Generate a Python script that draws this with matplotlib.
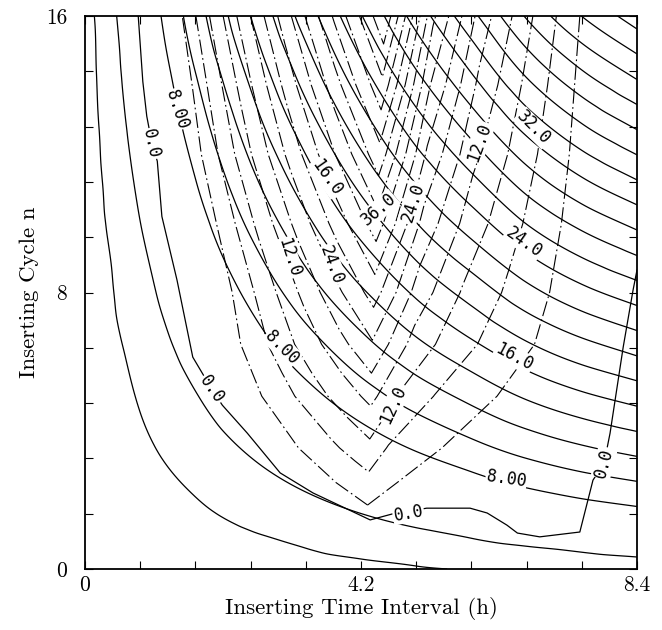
import numpy as np
import matplotlib
matplotlib.use("Agg")
import matplotlib.pyplot as plt
import matplotlib.tri as mtri
from matplotlib.ticker import MultipleLocator

plt.rcParams['font.family'] = 'cmr10'
plt.rcParams['axes.formatter.use_mathtext'] = True
plt.rcParams['lines.scale_dashes'] = False

# solid family: value on the bottom edge and rise per unit of n, per column
a_x = [0, 0.84, 1.68, 2.52, 3.36, 4.2, 5.04, 5.88, 6.72, 7.56, 8.4]
a_base = [0.07, 0.37, 0.66, 0.96, 1.26, 1.56, 1.85, 2.15, 2.45, 2.75, 3.04]
a_rise = [0.07, 0.36, 0.65, 0.94, 1.23, 1.52, 1.81, 2.08, 2.36, 2.58, 2.75]
a_n = [0, 1.6, 3.2, 4.8, 6.4, 8.0, 9.6, 11.2, 12.8, 14.4, 16]
a_levels = [2, 4] + list(range(8, 48, 2))

# dash-dot family (V shaped): ridge, outer edges and ridge value per row
b_n = [1.85, 2.5, 3.5, 5.0, 6.5, 8.0, 10.0, 12.0, 14.0, 16.0]
b_ridge_x = [4.30, 4.31, 4.33, 4.35, 4.37, 4.40, 4.44, 4.48, 4.52, 4.56]
b_left_x = [4.30, 3.82, 3.25, 2.69, 2.37, 2.24, 2.00, 1.77, 1.63, 1.48]
b_right_x = [4.30, 4.75, 5.43, 6.27, 6.84, 7.07, 7.25, 7.37, 7.45, 7.53]
b_ridge_val = [0, 2.7, 6.9, 13.2, 19.5, 25.8, 34.2, 42.6, 51.0, 59.4]
b_left_share = [0, 0.25, 0.5, 0.75]
b_right_share = [0.55, 0.30, 0.14, 0]
b_right_pos = [0.25, 0.5, 0.75, 1.0]
b_levels = list(range(4, 60, 4))

# the separate 0.0 curve
c_x = [0.81, 0.88, 0.94, 1.02, 1.10, 1.17, 1.40, 1.64, 1.93, 2.09, 2.47,
       2.97, 3.47, 4.34, 4.69, 5.20, 5.86, 6.12, 6.42, 6.58, 6.92, 7.53,
       7.73, 7.90, 7.99, 8.19, 8.34, 8.40]
c_n = [16.0, 14.1, 13.1, 12.3, 11.8, 10.2, 8.36, 6.13, 5.2, 4.74, 3.93,
       2.78, 2.2, 1.42, 1.6, 1.76, 1.76, 1.62, 1.27, 1.04, 0.93, 1.07,
       2.57, 3.07, 3.93, 6.42, 8.07, 8.65]

# contour labels: text, x, n, rotation
solid_labels = [
    ('0.0', 1.00, 12.3, -78), ('0.0', 1.93, 5.2, -55), ('0.0', 4.92, 1.62, 10),
    ('0.0', 7.90, 3.07, 75), ('8.00', 1.40, 13.3, -72), ('8.00', 3.00, 6.42, -45),
    ('8.00', 6.41, 2.60, -8), ('16.0', 3.68, 11.34, -55), ('16.0', 6.53, 6.13, -28),
    ('24.0', 6.68, 9.46, -35), ('32.0', 6.83, 12.76, -45),
]
dash_labels = [
    ('12.0', 3.10, 9.0, -72), ('24.0', 3.75, 8.8, -70), ('36.0', 4.47, 10.4, 41),
    ('12.0', 4.69, 4.74, 65), ('24.0', 4.99, 10.6, 72), ('12.0', 6.00, 12.35, 70),
]

dashdot = (0, (11, 2.5, 1.2, 2.5))

fig = plt.figure(figsize=(6.62, 6.30), dpi=100)
ax = fig.add_axes([85 / 662, 61 / 630, 552 / 662, 553 / 630])

# solid contours
X, N = np.meshgrid(a_x, a_n)
Z = N * np.array(a_rise) + np.array(a_base)
tri = mtri.Triangulation(X.ravel(), N.ravel())
interp = mtri.CubicTriInterpolator(tri, Z.ravel(), kind='geom')
refiner = mtri.UniformTriRefiner(tri)
tri_f, z_f = refiner.refine_field(Z.ravel(), triinterpolator=interp, subdiv=4)
ax.tricontour(tri_f, z_f, levels=a_levels, colors='k', linewidths=0.9)

# dash-dot contours on a grid that follows the V
rows_x, rows_z = [], []
for xl, xc, xr, rv in zip(b_left_x, b_ridge_x, b_right_x, b_ridge_val):
    xs = [xl + f * (xc - xl) for f in b_left_share] + [xc]
    xs += [xc + p * (xr - xc) for p in b_right_pos]
    zs = [f * rv for f in b_left_share] + [rv] + [g * rv for g in b_right_share]
    rows_x.append(xs)
    rows_z.append(zs)
BX = np.array(rows_x)
BN = np.repeat(np.array(b_n)[:, None], BX.shape[1], axis=1)
BZ = np.array(rows_z)
ax.contour(BX, BN, BZ, levels=b_levels, colors='k', linewidths=0.8,
           linestyles=[dashdot])
ax.plot(b_left_x, b_n, color='k', lw=0.8, ls=dashdot)
ax.plot(b_right_x, b_n, color='k', lw=0.8, ls=dashdot)

ax.plot(c_x, c_n, color='k', lw=0.9)

for txt, x, n, rot in solid_labels + dash_labels:
    ax.text(x, n, txt, rotation=rot, rotation_mode='anchor', ha='center',
            va='center', fontfamily='DejaVu Sans Mono', fontsize=12,
            bbox=dict(boxstyle='square,pad=0.05', fc='white', ec='none'),
            zorder=5)

ax.set_xlim(0, 8.4)
ax.set_ylim(0, 16)
ax.set_xticks([0, 4.2, 8.4])
ax.set_xticklabels(['0', '4.2', '8.4'])
ax.set_yticks([0, 8, 16])
ax.set_yticklabels(['0', '8', '16'])
ax.xaxis.set_minor_locator(MultipleLocator(0.84))
ax.yaxis.set_minor_locator(MultipleLocator(1.6))
ax.tick_params(which='both', direction='in', top=True, right=True,
               length=6, width=0.8)
ax.tick_params(axis='x', labelsize=15.5, pad=5)
ax.tick_params(axis='y', labelsize=15.5, pad=13)
for s in ax.spines.values():
    s.set_linewidth(1.3)

ax.set_xlabel('Inserting Time Interval (h)', fontsize=16.5, labelpad=1)
ax.set_ylabel('Inserting Cycle n', fontsize=16.5, labelpad=5)

fig.savefig('out.png', dpi=100)
